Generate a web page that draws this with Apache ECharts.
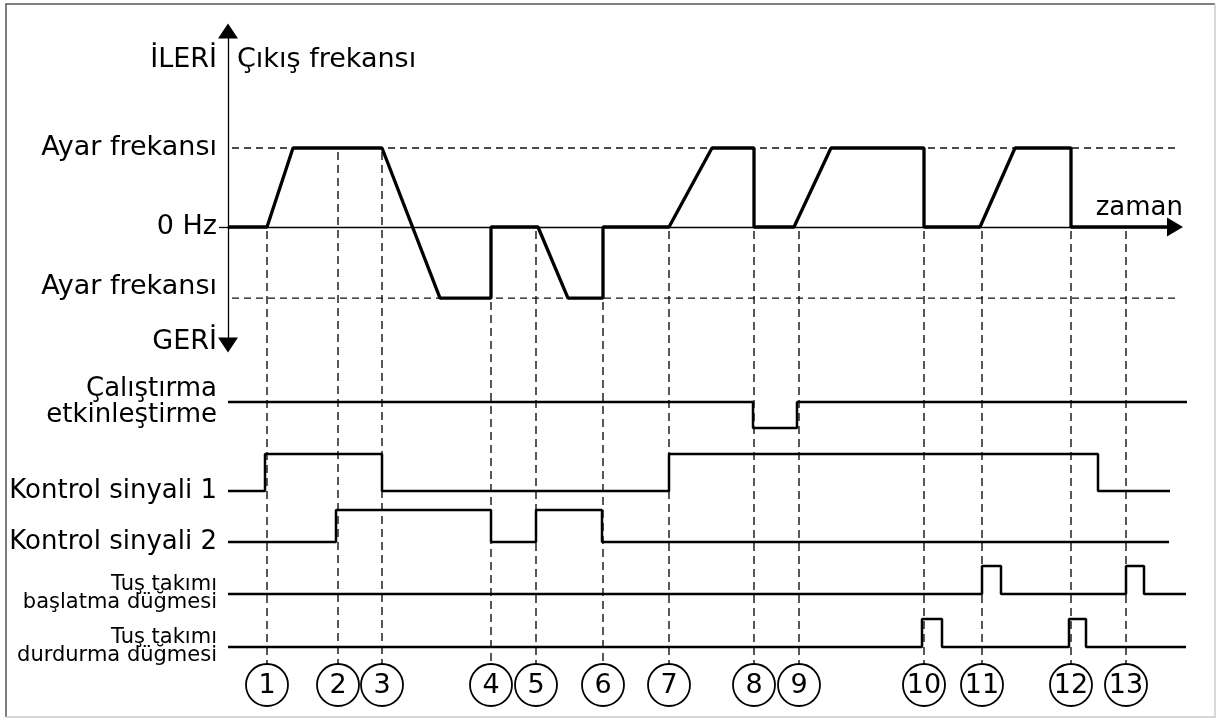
<!DOCTYPE html>
<html><head><meta charset="utf-8">
<script src="https://cdn.jsdelivr.net/npm/echarts@6/dist/echarts.min.js"></script>
<style>html,body{margin:0;padding:0;background:#fff}#c{width:1217px;height:723px}</style>
</head><body><div id="c"></div><script>
// ---------- DATA ----------
const FWD = 1;          // forward set frequency level
const REV = -0.9;       // reverse set frequency level
const freqTimes  = [0, 3.9, 6.5, 15.4, 21.2, 26.3, 26.3, 31.0, 34.0, 37.5, 37.5, 44.1, 48.4, 52.6, 52.6, 56.6, 60.3, 69.6, 69.6, 75.2, 78.7, 84.3, 84.3, 94.7];
const freqValues = [0, 0, 1, 1, -0.9, -0.9, 0, 0, -0.9, -0.9, 0, 0, 1, 1, 0, 0, 1, 1, 0, 0, 1, 1, 0, 0];

const eventNumbers = [1, 2, 3, 4, 5, 6, 7, 8, 9, 10, 11, 12, 13];
const eventTimes   = [3.9, 11.0, 15.4, 26.3, 30.8, 37.5, 44.1, 52.6, 57.1, 69.6, 75.4, 84.3, 89.8];
const eventGuideLevels = [0, 1, 1, -0.9, 0, -0.9, 0, 0, 0, 0, 0, 0, 0];

const runTimes    = [0, 52.5, 56.9, 95.9];
const runValues   = [1, 0, 1, 1];
const ctrl1Times  = [0, 3.7, 15.4, 44.1, 87.0, 94.2];
const ctrl1Values = [0, 1, 0, 1, 0, 0];
const ctrl2Times  = [0, 10.8, 26.3, 30.8, 37.4, 94.1];
const ctrl2Values = [0, 1, 0, 1, 0, 0];
const startTimes  = [0, 75.4, 77.3, 89.8, 91.6, 95.8];
const startValues = [0, 1, 0, 1, 0, 0];
const stopTimes   = [0, 69.4, 71.4, 84.1, 85.8, 95.8];
const stopValues  = [0, 1, 0, 1, 0, 0];

const freqTickValues = [FWD, 0, REV];
const freqTickLabels = ['Ayar frekansı', '0 Hz', 'Ayar frekansı'];
const laneLabels = ['Çalıştırma\netkinleştirme', 'Kontrol sinyali 1', 'Kontrol sinyali 2', 'Tuş takımı\nbaşlatma düğmesi', 'Tuş takımı\ndurdurma düğmesi'];
const laneLabelLevels = [1, 0, 0, 0, 0];
const axisTexts = { fwd: 'İLERİ', rev: 'GERİ', name: 'Çıkış frekansı', time: 'zaman' };

// ---------- LAYOUT ----------
const FONT = 'DejaVu Sans';
const MAIN_FS = 27, LANE_FS = 26, SMALL_FS = 21;
const AXIS_X = 228, PX_PER_T = 10;
const FREQ_TOP = 148, PX_PER_F = 79, CIRCLE_Y = 685, R = 21;
const G0_H = CIRCLE_Y - FREQ_TOP;
const G0_W = 947;
const F_MIN = FWD - G0_H / PX_PER_F;
const LANE_W = 960;
const lanes = [
  { top: 402, h: 26, times: runTimes, values: runValues, fs: LANE_FS, lh: 26 },
  { top: 454, h: 37, times: ctrl1Times, values: ctrl1Values, fs: LANE_FS, lh: 26 },
  { top: 510, h: 32, times: ctrl2Times, values: ctrl2Values, fs: LANE_FS, lh: 26 },
  { top: 566, h: 28, times: startTimes, values: startValues, fs: SMALL_FS, lh: 18 },
  { top: 619, h: 28, times: stopTimes, values: stopValues, fs: SMALL_FS, lh: 18 }
];

const zip = (a, b) => a.map((v, i) => [v, b[i]]);
const chart = echarts.init(document.getElementById('c'), null, { renderer: 'canvas' });

const grids = [], xAxes = [], yAxes = [], series = [];

// grid 0: frequency + event markers
grids.push({ left: AXIS_X, top: FREQ_TOP, width: G0_W, height: G0_H });
xAxes.push({
  gridIndex: 0, type: 'value', min: 0, max: G0_W / PX_PER_T,
  axisLine: { show: true, onZero: true, symbol: ['none', 'triangle'], symbolSize: [19, 16], lineStyle: { color: '#000', width: 1.3 } },
  axisTick: { show: false }, axisLabel: { show: false }, splitLine: { show: false },
  name: axisTexts.time, nameLocation: 'end', nameGap: 8,
  nameTextStyle: { fontFamily: FONT, fontSize: 26, color: '#000', align: 'right', verticalAlign: 'bottom', padding: [0, 0, 6, 0] }
});
yAxes.push({
  gridIndex: 0, type: 'value', min: F_MIN, max: FWD,
  axisLine: { show: false }, splitLine: { show: false },
  axisTick: { show: true, length: 9, customValues: [0], lineStyle: { color: '#000', width: 1.3 } },
  axisLabel: {
    show: true, margin: 11, customValues: freqTickValues, fontFamily: FONT, fontSize: MAIN_FS, color: '#000',
    formatter: function (v) {
      const i = freqTickValues.findIndex(x => Math.abs(x - v) < 1e-6);
      if (i < 0) return '';
      return v < 0 ? '{up|' + freqTickLabels[i] + '}' : freqTickLabels[i];
    },
    rich: { up: { fontFamily: FONT, fontSize: MAIN_FS, color: '#000', padding: [0, 0, 22, 0] } }
  }
});

// grid 1: vertical arrow axis
grids.push({ left: AXIS_X, top: 31, width: 1, height: 314 });
xAxes.push({ gridIndex: 1, type: 'value', show: false });
yAxes.push({
  gridIndex: 1, type: 'value', min: 0, max: 1,
  axisLine: { show: true, symbol: ['triangle', 'triangle'], symbolSize: [20, 15], lineStyle: { color: '#000', width: 1.3 } },
  axisTick: { show: false }, axisLabel: { show: false }, splitLine: { show: false }
});

// lane grids
lanes.forEach(function (ln, k) {
  const gi = grids.length;
  grids.push({ left: AXIS_X, top: ln.top, width: LANE_W, height: ln.h });
  xAxes.push({ gridIndex: gi, type: 'value', min: 0, max: LANE_W / PX_PER_T, show: false });
  yAxes.push({
    gridIndex: gi, type: 'value', min: 0, max: 1,
    axisLine: { show: false }, axisTick: { show: false }, splitLine: { show: false },
    axisLabel: {
      show: true, margin: 11, customValues: [laneLabelLevels[k]],
      fontFamily: FONT, fontSize: ln.fs, lineHeight: ln.lh, color: '#000', align: 'right',
      formatter: function () { return laneLabels[k]; }
    }
  });
  series.push({
    type: 'line', xAxisIndex: gi, yAxisIndex: gi, data: zip(ln.times, ln.values),
    step: 'end', symbol: 'none', clip: false, z: 5,
    lineStyle: { color: '#000', width: 2.5 }
  });
});

// set-frequency dashed guide lines
[FWD, REV].forEach(function (lv) {
  series.push({
    type: 'line', xAxisIndex: 0, yAxisIndex: 0, data: [[-0.8, lv], [95.7, lv]],
    symbol: 'none', clip: false, z: 2, silent: true,
    lineStyle: { color: '#111', width: 1.4, type: [7, 5] }
  });
});

// event markers
series.push({
  type: 'custom', xAxisIndex: 0, yAxisIndex: 0, z: 3,
  data: eventTimes.map((t, i) => [t, eventNumbers[i], eventGuideLevels[i]]),
  renderItem: function (params, api) {
    const t = api.value(0);
    const top = api.coord([t, api.value(2)]);
    const bot = api.coord([t, F_MIN]);
    return {
      type: 'group', children: [
        { type: 'line', shape: { x1: top[0], y1: top[1] + 4, x2: bot[0], y2: bot[1] - R },
          style: { stroke: '#111', lineWidth: 1.4, lineDash: [8, 5] } },
        { type: 'circle', shape: { cx: bot[0], cy: bot[1], r: R },
          style: { fill: '#fff', stroke: '#000', lineWidth: 1.8 } },
        { type: 'text', x: bot[0], y: bot[1] + 1,
          style: { text: String(api.value(1)), fill: '#000', font: '27px "DejaVu Sans"', align: 'center', verticalAlign: 'middle' } }
      ]
    };
  }
});

// frequency curve
series.push({
  type: 'line', xAxisIndex: 0, yAxisIndex: 0, data: zip(freqTimes, freqValues),
  symbol: 'none', clip: false, z: 6,
  lineStyle: { color: '#000', width: 3.3 }
});

chart.setOption({
  backgroundColor: '#fff',
  animation: false,
  grid: grids, xAxis: xAxes, yAxis: yAxes, series: series,
  graphic: [
    { type: 'polyline', shape: { points: [[6, 717], [6, 4], [1215, 4]] }, style: { stroke: '#555', lineWidth: 1.5, fill: null } },
    { type: 'polyline', shape: { points: [[1215, 4], [1215, 717], [6, 717]] }, style: { stroke: '#ccc', lineWidth: 1.5, fill: null } },
    { type: 'text', x: 217, y: 60, style: { text: axisTexts.fwd, font: MAIN_FS + 'px "DejaVu Sans"', fill: '#000', align: 'right', verticalAlign: 'middle' } },
    { type: 'text', x: 237, y: 60, style: { text: axisTexts.name, font: MAIN_FS + 'px "DejaVu Sans"', fill: '#000', align: 'left', verticalAlign: 'middle' } },
    { type: 'text', x: 217, y: 342, style: { text: axisTexts.rev, font: MAIN_FS + 'px "DejaVu Sans"', fill: '#000', align: 'right', verticalAlign: 'middle' } }
  ]
});
</script></body></html>
